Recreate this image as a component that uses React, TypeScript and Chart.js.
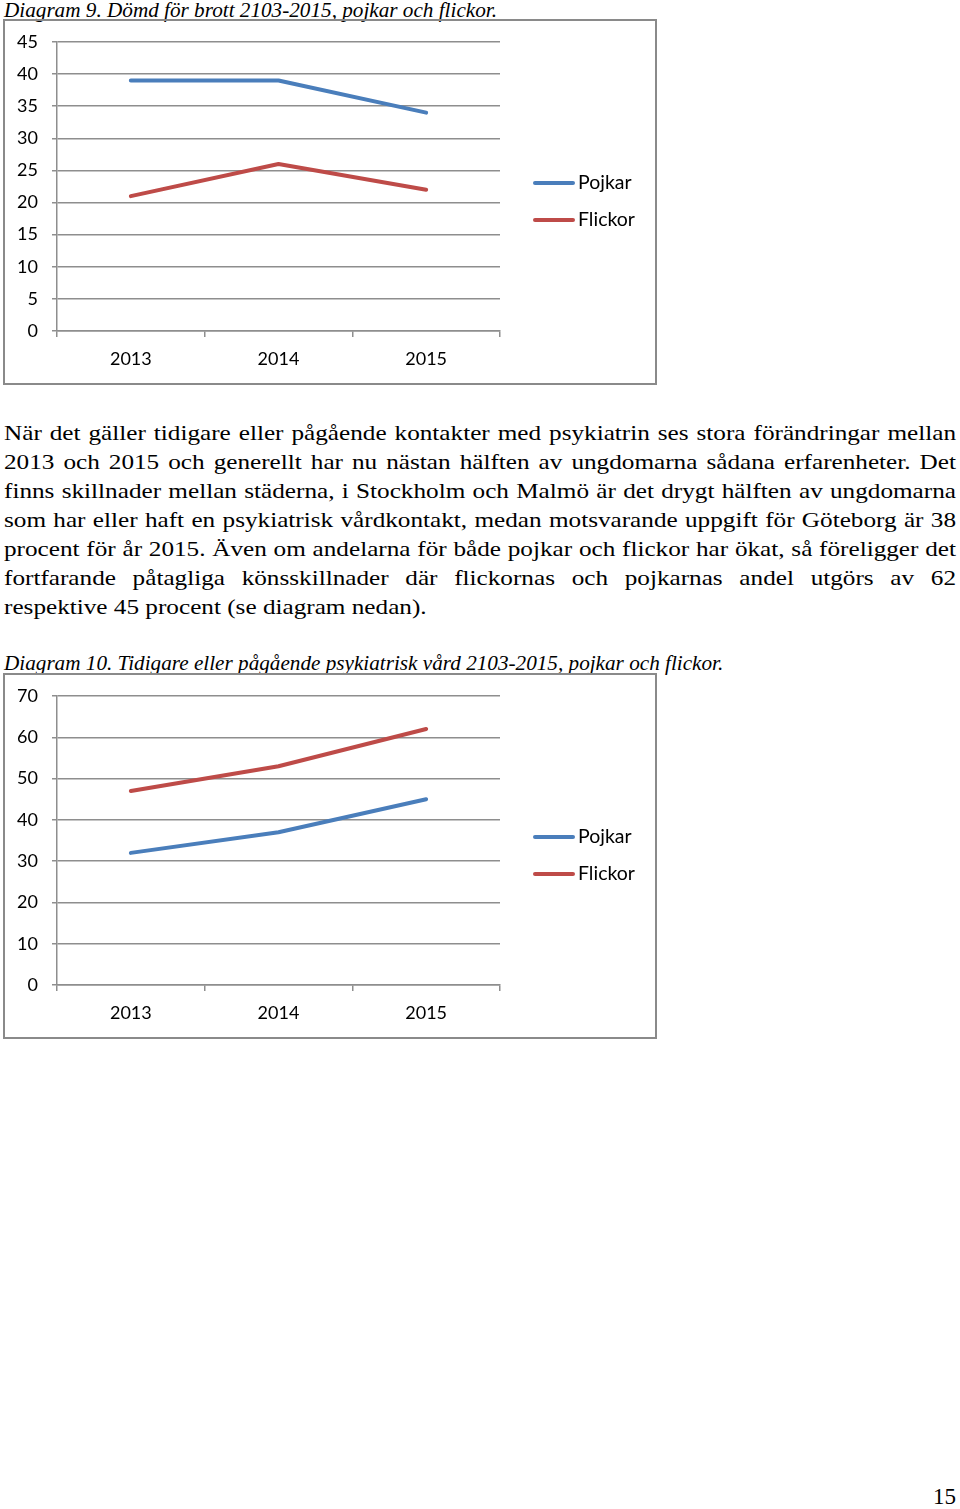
import React, { useEffect, useRef } from "react";
import { Chart, registerables } from "chart.js";

Chart.register(...registerables);

const years = ["2013", "2014", "2015"];
const seriesNames = ["Pojkar", "Flickor"];
const seriesColors = ["#4A7EBB", "#BE4B48"];

// Diagram 9: Dömd för brott
const crimePojkar = [39, 39, 34];
const crimeFlickor = [21, 26, 22];
const crimeMax = 45;
const crimeStep = 5;

// Diagram 10: psykiatrisk vård
const psychPojkar = [32, 37, 45];
const psychFlickor = [47, 53, 62];
const psychMax = 70;
const psychStep = 10;

const caption9 = "Diagram 9. Dömd för brott 2103-2015, pojkar och flickor.";
const caption10 = "Diagram 10. Tidigare eller pågående psykiatrisk vård 2103-2015, pojkar och flickor.";
const bodyText =
  "När det gäller tidigare eller pågående kontakter med psykiatrin ses stora förändringar mellan 2013 och 2015 och generellt har nu nästan hälften av ungdomarna sådana erfarenheter. Det finns skillnader mellan städerna, i Stockholm och Malmö är det drygt hälften av ungdomarna som har eller haft en psykiatrisk vårdkontakt, medan motsvarande uppgift för Göteborg är 38 procent för år 2015. Även om andelarna för både pojkar och flickor har ökat, så föreligger det fortfarande påtagliga könsskillnader där flickornas och pojkarnas andel utgörs av 62 respektive 45 procent (se diagram nedan).";

const GRID = "#8e8e8e";
const FONT = "Lato";
const BODY_SCALE = 1.2;

const legendPlugin = {
  id: "sideLegend",
  afterDraw(chart: any) {
    const { ctx, chartArea } = chart;
    ctx.save();
    chart.data.datasets.forEach((ds: any, i: number) => {
      const x = chartArea.right + 33;
      const y = 163 + i * 37;
      ctx.strokeStyle = ds.borderColor;
      ctx.lineWidth = 4;
      ctx.lineCap = "round";
      ctx.beginPath();
      ctx.moveTo(x + 2, y);
      ctx.lineTo(x + 40, y);
      ctx.stroke();
      ctx.fillStyle = "#000";
      ctx.font = `19.5px ${FONT}`;
      ctx.textBaseline = "middle";
      ctx.textAlign = "left";
      ctx.fillText(ds.label, x + 45, y);
    });
    ctx.restore();
  },
};

function LineChart({ a, b, max, step }: { a: number[]; b: number[]; max: number; step: number }) {
  const ref = useRef<HTMLCanvasElement>(null);
  useEffect(() => {
    const chart = new Chart(ref.current!, {
      type: "line",
      data: {
        labels: years,
        datasets: [a, b].map((d, i) => ({
          label: seriesNames[i],
          data: d,
          borderColor: seriesColors[i],
          backgroundColor: seriesColors[i],
          borderWidth: 4,
          borderCapStyle: "round",
          borderJoinStyle: "round",
          pointRadius: 0,
          tension: 0,
          fill: false,
        })),
      },
      options: {
        animation: false,
        responsive: false,
        maintainAspectRatio: false,
        layout: { padding: { top: 22, right: 156, left: 0, bottom: 0 } },
        plugins: { legend: { display: false }, tooltip: { enabled: false } },
        scales: {
          x: {
            type: "category",
            offset: true,
            afterFit: (s: any) => {
              s.height = 53;
            },
            grid: {
              offset: true,
              drawOnChartArea: false,
              drawTicks: true,
              tickLength: 6,
              color: GRID,
              lineWidth: 1.5,
            },
            border: { display: true, color: GRID, width: 1.5 },
            ticks: { color: "#000", font: { family: FONT, size: 18 }, padding: 11, maxRotation: 0 },
          },
          y: {
            min: 0,
            max,
            afterFit: (s: any) => {
              s.width = 53;
              s.paddingTop = 0;
              s.paddingBottom = 0;
            },
            ticks: { stepSize: step, color: "#000", font: { family: FONT, size: 18 }, padding: 14 },
            grid: { color: GRID, lineWidth: 1.5, tickLength: 5, drawTicks: true },
            border: { display: true, color: GRID, width: 1.5 },
          },
        },
      },
      plugins: [legendPlugin],
    } as any);
    return () => chart.destroy();
  }, [a, b, max, step]);
  return <canvas ref={ref} width={652} height={364} style={{ width: 652, height: 364, display: "block" }} />;
}

function ChartBlock({ top, a, b, max, step }: any) {
  return (
    <>
      <div style={{ position: "absolute", left: 4, top, width: 652, height: 364 }}>
        <LineChart a={a} b={b} max={max} step={step} />
      </div>
      <div
        style={{
          position: "absolute",
          left: 3,
          top: top - 1,
          width: 654,
          height: 366,
          boxSizing: "border-box",
          border: "2px solid #8a8a8a",
          pointerEvents: "none",
        }}
      />
    </>
  );
}

export default function App() {
  const serif = "'Liberation Serif', 'Times New Roman', serif";
  return (
    <div
      style={{
        position: "absolute",
        left: 0,
        top: 0,
        width: 960,
        height: 1509,
        background: "#fff",
        fontFamily: serif,
        color: "#000",
        overflow: "hidden",
      }}
    >
      <div style={{ position: "absolute", left: 4, top: -2, fontStyle: "italic", fontSize: 21.2, lineHeight: "24px", whiteSpace: "nowrap" }}>
        {caption9}
      </div>
      <ChartBlock top={20} a={crimePojkar} b={crimeFlickor} max={crimeMax} step={crimeStep} />
      <div
        style={{
          position: "absolute",
          left: 4,
          top: 419,
          width: 952 / BODY_SCALE,
          fontSize: 21,
          lineHeight: "29px",
          textAlign: "justify",
          transform: `scaleX(${BODY_SCALE})`,
          transformOrigin: "0 0",
        }}
      >
        {bodyText}
      </div>
      <div style={{ position: "absolute", left: 4, top: 651, fontStyle: "italic", fontSize: 21.2, lineHeight: "24px", whiteSpace: "nowrap" }}>
        {caption10}
      </div>
      <ChartBlock top={674} a={psychPojkar} b={psychFlickor} max={psychMax} step={psychStep} />
      <div style={{ position: "absolute", right: 4, top: 1485, fontSize: 23, lineHeight: "24px" }}>15</div>
    </div>
  );
}
